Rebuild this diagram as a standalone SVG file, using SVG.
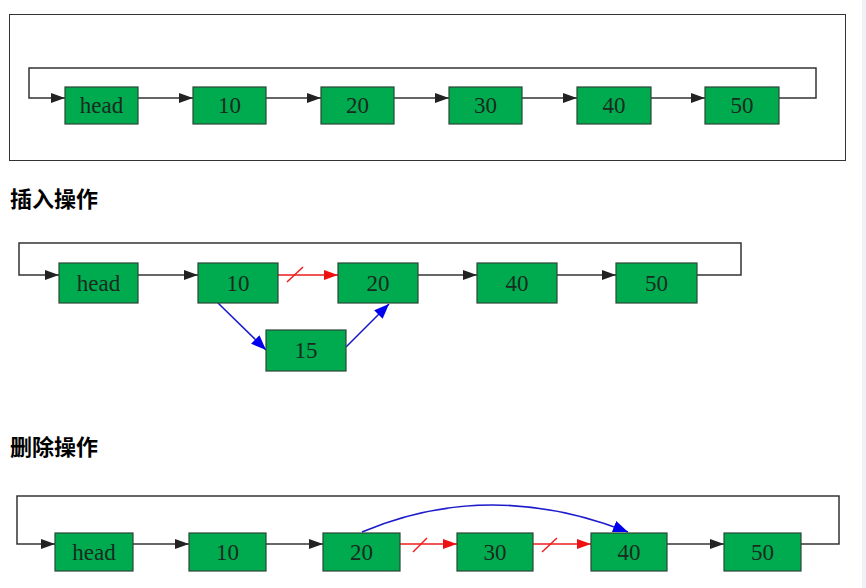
<svg xmlns="http://www.w3.org/2000/svg" width="866" height="588" viewBox="0 0 866 588">
<defs>
<style>
.n rect{fill:#00aa4f;stroke:#2b4636;stroke-width:1.2}
.n text{font-family:"Liberation Serif",serif;font-size:23px;fill:#1a2a1e;text-anchor:middle}
.k{fill:none;stroke:#333;stroke-width:1.5;marker-end:url(#ak)}
.r{fill:none;stroke:#ee1c1c;stroke-width:1.5;marker-end:url(#ar)}
.rs{fill:none;stroke:#ee1c1c;stroke-width:1.5}
.b{fill:none;stroke:#1c1ccc;stroke-width:1.6;marker-end:url(#ab)}
.h{font-family:"Noto Sans CJK SC","Noto Sans",sans-serif;font-size:22px;font-weight:bold;fill:#000}
</style>
<marker id="ak" markerUnits="userSpaceOnUse" markerWidth="14" markerHeight="10" refX="14" refY="5" orient="auto"><path d="M0,0 L14,5 L0,10 z" fill="#222"/></marker>
<marker id="ar" markerUnits="userSpaceOnUse" markerWidth="14" markerHeight="10" refX="14" refY="5" orient="auto"><path d="M0,0 L14,5 L0,10 z" fill="#ee1111"/></marker>
<marker id="ab" markerUnits="userSpaceOnUse" markerWidth="15" markerHeight="12" refX="15" refY="6" orient="auto"><path d="M0,0 L15,6 L0,12 z" fill="#0000ee"/></marker>
</defs>
<rect width="866" height="588" fill="#fff"/>
<rect x="862" y="0" width="4" height="588" fill="#eef2f7"/>
<rect x="9.5" y="14.5" width="836" height="146" fill="none" stroke="#333" stroke-width="1"/>
<text class="h" x="10" y="207">插入操作</text>
<text class="h" x="10" y="455">删除操作</text>

<g id="connectors">
<path class="k" d="M779,98 H816 V68 H29 V98 H65"/>
<path class="k" d="M138,98 H193"/>
<path class="k" d="M266,98 H321"/>
<path class="k" d="M394,98 H449"/>
<path class="k" d="M522,98 H577"/>
<path class="k" d="M651,98 H705"/>

<path class="k" d="M697,275 H741 V243 H19 V275 H59"/>
<path class="k" d="M138,275 H198"/>
<path class="r" d="M278,275 H338"/>
<path class="rs" d="M287,282 L303,267"/>
<path class="k" d="M418,275 H477"/>
<path class="k" d="M557,275 H616"/>
<path class="b" d="M218,303 L266,350"/>
<path class="b" d="M346,347 L389,304"/>

<path class="k" d="M801,544 H839 V496 H17 V544 H55"/>
<path class="k" d="M133,544 H189"/>
<path class="k" d="M266,544 H323"/>
<path class="r" d="M400,544 H457"/>
<path class="rs" d="M413,552 L427,538"/>
<path class="r" d="M533,544 H591"/>
<path class="rs" d="M542,552 L557,538"/>
<path class="k" d="M667,544 H724"/>
<path class="b" d="M362,532 Q490,478 628,532"/>
</g>

<g id="top-head" class="n"><rect x="65" y="87" width="73" height="37"/><text x="101.5" y="113">head</text></g>
<g id="top-10" class="n"><rect x="193" y="87" width="73" height="37"/><text x="229.5" y="113">10</text></g>
<g id="top-20" class="n"><rect x="321" y="87" width="73" height="37"/><text x="357.5" y="113">20</text></g>
<g id="top-30" class="n"><rect x="449" y="87" width="73" height="37"/><text x="485.5" y="113">30</text></g>
<g id="top-40" class="n"><rect x="577" y="87" width="74" height="37"/><text x="614" y="113">40</text></g>
<g id="top-50" class="n"><rect x="705" y="87" width="74" height="37"/><text x="742" y="113">50</text></g>

<g id="ins-head" class="n"><rect x="59" y="263" width="79" height="40"/><text x="98.5" y="291">head</text></g>
<g id="ins-10" class="n"><rect x="198" y="263" width="80" height="40"/><text x="238" y="291">10</text></g>
<g id="ins-20" class="n"><rect x="338" y="263" width="80" height="40"/><text x="378" y="291">20</text></g>
<g id="ins-40" class="n"><rect x="477" y="263" width="80" height="40"/><text x="517" y="291">40</text></g>
<g id="ins-50" class="n"><rect x="616" y="263" width="81" height="40"/><text x="656.5" y="291">50</text></g>
<g id="ins-15" class="n"><rect x="266" y="330" width="80" height="41"/><text x="306" y="358">15</text></g>

<g id="del-head" class="n"><rect x="55" y="533" width="78" height="38"/><text x="94" y="560">head</text></g>
<g id="del-10" class="n"><rect x="189" y="533" width="77" height="38"/><text x="227.5" y="560">10</text></g>
<g id="del-20" class="n"><rect x="323" y="533" width="77" height="38"/><text x="361.5" y="560">20</text></g>
<g id="del-30" class="n"><rect x="457" y="533" width="76" height="38"/><text x="495" y="560">30</text></g>
<g id="del-40" class="n"><rect x="591" y="533" width="76" height="38"/><text x="629" y="560">40</text></g>
<g id="del-50" class="n"><rect x="724" y="533" width="77" height="38"/><text x="762.5" y="560">50</text></g>
</svg>
